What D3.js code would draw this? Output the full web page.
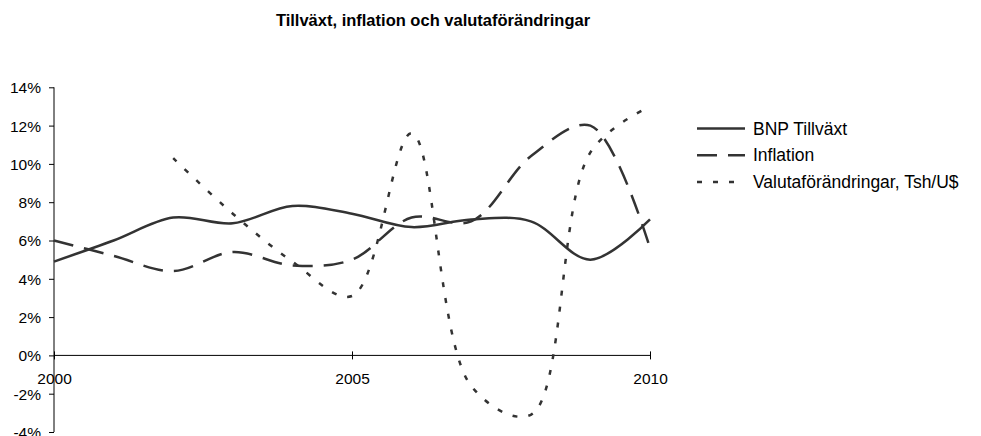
<!DOCTYPE html>
<html>
<head>
<meta charset="utf-8">
<script src="https://cdn.jsdelivr.net/npm/d3@7"></script>
<style>
  body { margin: 0; background: #fff; }
  text { font-family: "Liberation Sans", Arial, sans-serif; fill: #000; }
</style>
</head>
<body>
<script>
// Data
const years = [2000, 2001, 2002, 2003, 2004, 2005, 2006, 2007, 2008, 2009, 2010];
const bnp = [4.9, 6.0, 7.2, 6.9, 7.8, 7.4, 6.7, 7.1, 7.0, 5.0, 7.1];
const inflation = [6.0, 5.2, 4.4, 5.4, 4.7, 5.0, 7.2, 7.0, 10.4, 12.0, 5.6];
const valuta = [null, null, 10.3, 7.4, 4.9, 3.1, 11.6, -1.6, -3.1, 10.6, 13.0];
const seriesNames = ["BNP Tillväxt", "Inflation", "Valutaförändringar, Tsh/U$"];
const xTickYears = [2000, 2005, 2010];
const yTicks = [-4, -2, 0, 2, 4, 6, 8, 10, 12, 14];

const svgWidth = 981, svgHeight = 436;

const svg = d3.select("body").append("svg")
    .attr("width", svgWidth)
    .attr("height", svgHeight);

// Title
svg.append("text")
    .attr("x", 433)
    .attr("y", 26)
    .attr("text-anchor", "middle")
    .style("font-size", "16.5px")
    .style("font-weight", "bold")
    .text("Tillväxt, inflation och valutaförändringar");

// Scales
const x = d3.scaleLinear().domain([2000, 2010]).range([54, 650]);
const y = d3.scaleLinear().domain([-4, 14]).range([432, 87.3]);

// Y axis
const yAxis = svg.append("g")
    .attr("transform", "translate(54,0)")
    .call(d3.axisLeft(y).tickValues(yTicks).tickSize(5).tickPadding(8)
        .tickFormat(d => d + "%"));
yAxis.select(".domain").attr("stroke", "#000").attr("d", `M0,${y(-4)}V${y(14)}`);
yAxis.selectAll("text").style("font-size", "15.5px").attr("dy", "0.35em");

// X axis at 0%
const xAxis = svg.append("g")
    .attr("transform", `translate(0,${y(0)})`)
    .call(d3.axisBottom(x).tickValues(xTickYears).tickSize(0).tickFormat(d3.format("d")));
xAxis.select(".domain").attr("stroke", "#000").attr("d", `M${x(2000)},0H${x(2010)}`);
xAxis.selectAll(".tick line").attr("y1", -4).attr("y2", 4).attr("stroke", "#000");
xAxis.selectAll("text").style("font-size", "15.5px").attr("y", 18).attr("dy", "0.71em");

// Lines
const styles = [
    { data: bnp, dash: null },
    { data: inflation, dash: "20,11" },
    { data: valuta, dash: "5,11" }
];

const line = d3.line()
    .x(d => x(d[0]))
    .y(d => y(d[1]))
    .curve(d3.curveCatmullRom.alpha(0.5));

styles.forEach(function(s) {
    const pts = years.map((yr, i) => [yr, s.data[i]]).filter(d => d[1] !== null);
    svg.append("path")
        .datum(pts)
        .attr("fill", "none")
        .attr("stroke", "#333")
        .attr("stroke-width", 2.5)
        .attr("stroke-dasharray", s.dash)
        .attr("d", line);
});

// Legend
const legend = svg.selectAll(".legend")
    .data(seriesNames)
    .enter().append("g")
    .attr("class", "legend")
    .attr("transform", (d, i) => `translate(697,${128.5 + i * 26.7})`);

legend.append("line")
    .attr("x1", 0).attr("x2", 48)
    .attr("stroke", "#333")
    .attr("stroke-width", 2.5)
    .attr("stroke-dasharray", (d, i) => styles[i].dash);

legend.append("text")
    .attr("x", 56)
    .attr("dy", "0.35em")
    .style("font-size", "17.5px")
    .text(d => d);
</script>
</body>
</html>
